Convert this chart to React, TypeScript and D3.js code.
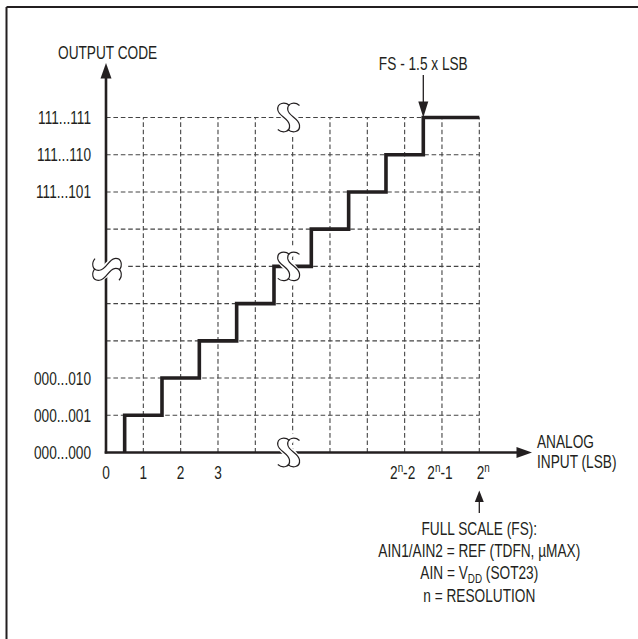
import React from "react";
import * as d3 from "d3";

// ---- data ----
const inputTicks = [0, 1, 2, 3];
const inputTickLabelsHigh = [
  { k: 8, base: "2", sup: "n", rest: "-2" },
  { k: 9, base: "2", sup: "n", rest: "-1" },
  { k: 10, base: "2", sup: "n", rest: "" },
];
const codeLabels = [
  { level: 9, label: "111...111" },
  { level: 8, label: "111...110" },
  { level: 7, label: "111...101" },
  { level: 2, label: "000...010" },
  { level: 1, label: "000...001" },
  { level: 0, label: "000...000" },
];
const transitionInputs = [0.5, 1.5, 2.5, 3.5, 4.5, 5.5, 6.5, 7.5, 8.5];
const outputCodes = [1, 2, 3, 4, 5, 6, 7, 8, 9];
const fullScaleInput = 10;
const gridColumns = [1, 2, 3, 4, 5, 6, 7, 8, 9, 10];
const gridRows = [1, 2, 3, 4, 5, 6, 7, 8, 9];
const fsNoteLines = ["FULL SCALE (FS):", "AIN1/AIN2 = REF (TDFN, µMAX)", "VDD", "n = RESOLUTION"];

const W = 638;
const H = 639;
const INK = "#231f20";
const SX = 0.76;
const FONT = "'Liberation Sans', Arial, sans-serif";

function T(props: any) {
  const { x, y, anchor = "start", size = 18, children } = props;
  return (
    <text
      transform={`translate(${x},${y}) scale(${SX},1)`}
      textAnchor={anchor}
      fontSize={size}
      fontFamily={FONT}
      fill={INK}
    >
      {children}
    </text>
  );
}

function sPath(w: number, h: number) {
  const p = d3.path();
  const x0 = -w / 2, y0 = -h / 2;
  p.moveTo(x0 + 0.95 * w, y0 + 0.1 * h);
  p.bezierCurveTo(x0 + 0.6 * w, y0 - 0.03 * h, x0 - 0.02 * w, y0, x0 + 0.05 * w, y0 + 0.25 * h);
  p.bezierCurveTo(x0 + 0.12 * w, y0 + 0.45 * h, x0 + 0.88 * w, y0 + 0.52 * h, x0 + 0.95 * w, y0 + 0.75 * h);
  p.bezierCurveTo(x0 + 1.02 * w, y0 + 1.0 * h, x0 + 0.4 * w, y0 + 1.03 * h, x0 + 0.05 * w, y0 + 0.9 * h);
  return p.toString();
}

function BreakMark(props: any) {
  const { cx, cy, rotate = 0 } = props;
  const w = 13, h = 30, off = 10;
  const d = sPath(w, h);
  return (
    <g transform={`translate(${cx},${cy}) rotate(${rotate})`}>
      <path d={d} stroke="#fff" strokeWidth={off + 1} fill="none" />
      <path d={d} transform={`translate(${-off / 2},0)`} stroke={INK} strokeWidth={1.2} fill="none" />
      <path d={d} transform={`translate(${off / 2},0)`} stroke={INK} strokeWidth={1.2} fill="none" />
    </g>
  );
}

export default function App() {
  const x = d3.scaleLinear().domain([0, 10]).range([106, 479.3]);
  const y = d3.scaleLinear().domain([0, 9]).range([452.5, 117.5]);

  const stairPts: [number, number][] = [[transitionInputs[0], 0]];
  transitionInputs.forEach((t, i) => {
    if (i > 0) stairPts.push([t, outputCodes[i - 1]]);
    stairPts.push([t, outputCodes[i]]);
  });
  stairPts.push([fullScaleInput, outputCodes[outputCodes.length - 1]]);
  const stairLine = d3
    .line<[number, number]>()
    .x((d) => x(d[0]))
    .y((d) => y(d[1]));

  const x0 = x(0), y0 = y(0);
  const xEnd = x(fullScaleInput);
  const yTop = y(9);
  const axisTipY = 63;
  const axisTipX = 532;
  const fsX = x(transitionInputs[transitionInputs.length - 1]);
  const fullX = x(fullScaleInput);

  return (
    <svg
      width={W}
      height={H}
      style={{ position: "absolute", left: 0, top: 0, background: "#fff" }}
    >
      <rect x={0} y={0} width={W} height={H} fill="#fff" />
      {/* frame */}
      <line x1={6.5} y1={7} x2={W} y2={7} stroke={INK} strokeWidth={2} />
      <line x1={6.5} y1={7} x2={6.5} y2={H} stroke={INK} strokeWidth={2} />

      {/* grid */}
      <g stroke="#444" strokeWidth={1.1} strokeDasharray="4.6 2.8" fill="none">
        {gridRows.map((r) => (
          <line key={"r" + r} x1={x0} x2={xEnd} y1={y(r)} y2={y(r)} />
        ))}
        {gridColumns.map((c) => (
          <line key={"c" + c} x1={x(c)} x2={x(c)} y1={y0} y2={yTop} />
        ))}
      </g>

      {/* staircase */}
      <path
        d={stairLine(stairPts) || ""}
        fill="none"
        stroke={INK}
        strokeWidth={3.6}
        strokeLinejoin="miter"
        strokeLinecap="butt"
      />

      {/* axes */}
      <line x1={x0} y1={y0 + 1} x2={x0} y2={axisTipY + 10} stroke={INK} strokeWidth={2.6} />
      <path d={`M${x0},${axisTipY} L${x0 - 5.5},${axisTipY + 15.5} L${x0 + 5.5},${axisTipY + 15.5} Z`} fill={INK} />
      <line x1={x0 - 1.3} y1={y0} x2={axisTipX - 10} y2={y0} stroke={INK} strokeWidth={2.6} />
      <path d={`M${axisTipX},${y0} L${axisTipX - 15.5},${y0 - 5.5} L${axisTipX - 15.5},${y0 + 5.5} Z`} fill={INK} />

      {/* break marks */}
      <BreakMark cx={x(5) - 4} cy={y(9)} />
      <BreakMark cx={x(5) - 4} cy={y(5)} />
      <BreakMark cx={x(5) - 4} cy={y(0)} />
      <BreakMark cx={x0 + 1} cy={y(5) + 3} rotate={90} />

      {/* y labels */}
      <T x={58} y={59}>OUTPUT CODE</T>
      {codeLabels.map((c) => (
        <T key={c.label} x={91} y={y(c.level) + 6.5} anchor="end">
          {c.label}
        </T>
      ))}

      {/* x labels */}
      {inputTicks.map((t) => (
        <T key={t} x={x(t)} y={479} anchor="middle">
          {String(t)}
        </T>
      ))}
      {inputTickLabelsHigh.map((l) => (
        <T key={l.k} x={x(l.k) + (l.rest ? -2 : 4)} y={478.5} anchor="middle">
          {l.base}
          <tspan fontSize={13} dy={-7}>{l.sup}</tspan>
          <tspan dy={7}>{l.rest}</tspan>
        </T>
      ))}
      <T x={537} y={447.5}>ANALOG</T>
      <T x={537} y={468}>INPUT (LSB)</T>

      {/* FS - 1.5 LSB annotation */}
      <T x={fsX} y={70} anchor="middle">FS - 1.5 x LSB</T>
      <line x1={fsX} y1={75} x2={fsX} y2={104} stroke={INK} strokeWidth={1.3} />
      <path d={`M${fsX},${yTop} L${fsX - 5},${yTop - 16} L${fsX + 5},${yTop - 16} Z`} fill={INK} />

      {/* full-scale annotation */}
      <path d={`M${fullX},${490.5} L${fullX - 4.5},${502} L${fullX + 4.5},${502} Z`} fill={INK} />
      <line x1={fullX} y1={500} x2={fullX} y2={513} stroke={INK} strokeWidth={1.3} />
      <T x={fullX} y={535} anchor="middle">{fsNoteLines[0]}</T>
      <T x={fullX} y={557} anchor="middle">{fsNoteLines[1]}</T>
      <T x={fullX} y={579} anchor="middle">
        AIN = V
        <tspan fontSize={13} dy={4}>DD</tspan>
        <tspan dy={-4}> (SOT23)</tspan>
      </T>
      <T x={fullX} y={601.5} anchor="middle">{fsNoteLines[3]}</T>
    </svg>
  );
}
